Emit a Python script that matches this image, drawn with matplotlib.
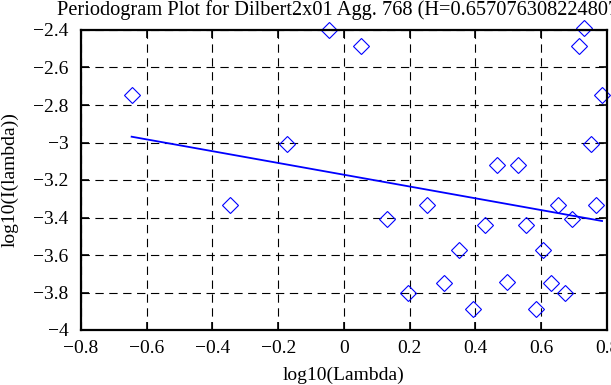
import numpy as np
import matplotlib
matplotlib.use("Agg")
import matplotlib.pyplot as plt

plt.rcParams['font.family'] = ['Liberation Serif', 'DejaVu Serif']
plt.rcParams['lines.scale_dashes'] = False

# periodogram points (log10 lambda, log10 I(lambda))
log_lambda = [-0.646, -0.348, -0.172, -0.045, 0.051, 0.130, 0.195, 0.253,
              0.305, 0.350, 0.391, 0.429, 0.464, 0.497, 0.528, 0.553,
              0.583, 0.605, 0.629, 0.650, 0.672, 0.693, 0.716, 0.731,
              0.750, 0.766, 0.785]
log_I = [-2.748, -3.332, -3.006, -2.400, -2.484, -3.409, -3.803, -3.332,
         -3.751, -3.571, -3.887, -3.439, -3.122, -3.744, -3.122, -3.439,
         -3.887, -3.571, -3.751, -3.332, -3.803, -3.409, -2.484, -2.390,
         -3.008, -3.332, -2.748]

# fitted line
H = 0.6570763082248071
slope = 1 - 2 * H
intercept = -3.172

W, Hpx = 611, 385
fig = plt.figure(figsize=(W/100, Hpx/100), dpi=100)
ax = fig.add_axes([81/W, 1 - 330/Hpx, (607-81)/W, 300/Hpx])

ax.plot(log_lambda, log_I, linestyle='none', marker='D', markersize=8.5,
        markerfacecolor='none', markeredgecolor='blue', markeredgewidth=0.8, clip_on=False)
xl = np.array([min(log_lambda), max(log_lambda)])
ax.plot(xl, intercept + slope * xl, color='blue', linewidth=1.3)

ax.set_xlim(-0.8, 0.8)
ax.set_ylim(-4, -2.4)
ax.set_xticks(np.arange(-0.8, 0.81, 0.2))
ax.set_yticks(np.arange(-4, -2.39, 0.2))
ax.set_xticklabels(['\u22120.8', '\u22120.6', '\u22120.4', '\u22120.2', '0', '0.2', '0.4', '0.6', '0.8'])
ax.set_yticklabels(['\u22124', '\u22123.8', '\u22123.6', '\u22123.4', '\u22123.2', '\u22123',
                    '\u22122.8', '\u22122.6', '\u22122.4'])
ax.grid(True, color='black', linestyle=(0, (6, 4)), linewidth=0.8)
ax.tick_params(direction='in', length=6, width=1.2, top=True, right=True, labelsize=14)
ax.tick_params(axis='x', pad=7)
ax.tick_params(axis='y', pad=9)
for s in ax.spines.values():
    s.set_linewidth(1.6)

fig.text(344/W, 1 - 375/Hpx, 'log10(Lambda)', fontsize=14, ha='center', va='center')
fig.text(10/W, 1 - 180/Hpx, 'log10(I(lambda))', fontsize=14, ha='center', va='center', rotation=90)
fig.text(57/W, 1 - 10/Hpx, 'Periodogram Plot for Dilbert2x01 Agg. 768 (H=0.6570763082248071)',
         fontsize=14.7, ha='left', va='center')

fig.savefig('out.png', dpi=100)
